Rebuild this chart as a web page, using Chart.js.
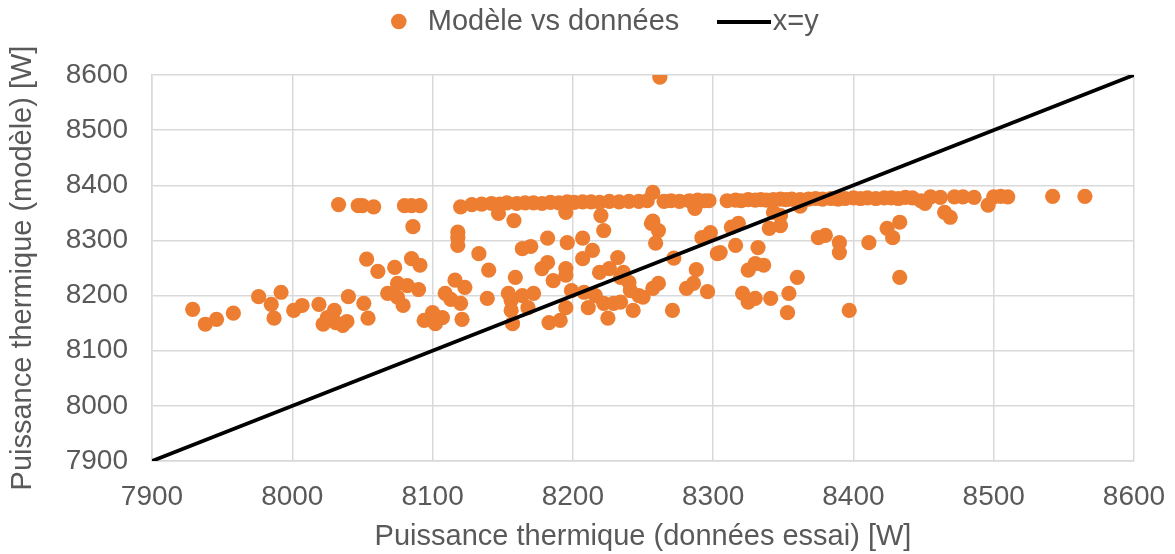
<!DOCTYPE html>
<html>
<head>
<meta charset="utf-8">
<script src="https://cdn.jsdelivr.net/npm/chart.js@4"></script>
<style>
  html, body { margin: 0; padding: 0; background: #fff; }
  #wrap { width: 1175px; height: 554px; }
</style>
</head>
<body>
<div id="wrap"><canvas id="chart"></canvas></div>
<script>
// Puissance thermique : modèle vs données d'essai [W]
const seriesLabels = ['Modèle vs données', 'x=y'];

// points hors du "plateau" ~8370 W
const modelX = [
  7929, 7938, 7946, 7958, 7976, 7985, 7987, 7992, 8001, 8007, 8019, 8022, 8025, 8030, 8031, 8036,
  8039, 8040, 8051, 8054, 8053, 8061, 8073, 8068, 8075, 8075, 8079, 8082, 8090, 8085, 8091, 8086,
  8033, 8047, 8050, 8058, 8080, 8085, 8091, 8094, 8100, 8102, 8107, 8109, 8113, 8116, 8120, 8121,
  8123, 8118, 8118, 8118, 8133, 8140, 8139, 8159, 8154, 8156, 8156, 8157, 8164, 8168, 8172, 8183,
  8191, 8195, 8199, 8208, 8211, 8216, 8225, 8222, 8229, 8234, 8243, 8247, 8250, 8164, 8170, 8178,
  8182, 8186, 8195, 8195, 8182, 8196, 8207, 8214, 8207, 8219, 8226, 8232, 8236, 8234, 8240, 8241,
  8158, 8147, 8220, 8222, 8256, 8257, 8261, 8259, 8272, 8257, 8261, 8271, 8281, 8286, 8288, 8296,
  8292, 8298, 8303, 8305, 8316, 8313, 8318, 8321, 8325, 8330, 8341, 8325, 8330, 8336, 8332, 8353,
  8354, 8360, 8340, 8348, 8343, 8348, 8375, 8380, 8390, 8390, 8397, 8411, 8424, 8428, 8433, 8433,
  8451, 8465, 8469, 8496, 8542, 8565, 8262, 8257, 8195, 8287, 8362
];
const modelY = [
  8175, 8148, 8157, 8168, 8198, 8184, 8159, 8206, 8173, 8182, 8184, 8148, 8160, 8173, 8151, 8146,
  8153, 8198, 8186, 8159, 8266, 8244, 8251, 8204, 8222, 8197, 8182, 8218, 8211, 8267, 8255, 8325,
  8365, 8363, 8363, 8361, 8363, 8363, 8363, 8155, 8169, 8149, 8160, 8204, 8193, 8228, 8186, 8157,
  8215, 8315, 8305, 8291, 8276, 8246, 8195, 8233, 8204, 8191, 8173, 8149, 8200, 8178, 8204, 8151,
  8155, 8178, 8209, 8206, 8178, 8200, 8159, 8186, 8186, 8188, 8173, 8200, 8197, 8285, 8289, 8249,
  8260, 8227, 8249, 8237, 8304, 8296, 8304, 8282, 8267, 8242, 8249, 8269, 8242, 8233, 8224, 8209,
  8336, 8349, 8345, 8318, 8331, 8335, 8318, 8295, 8268, 8213, 8222, 8173, 8213, 8222, 8247, 8207,
  8305, 8314, 8276, 8278, 8291, 8324, 8331, 8204, 8188, 8195, 8195, 8246, 8258, 8255, 8287, 8169,
  8204, 8233, 8322, 8327, 8351, 8345, 8305, 8309, 8296, 8278, 8173, 8296, 8322, 8305, 8333, 8233,
  8367, 8351, 8342, 8364, 8380, 8380, 8596, 8387, 8351, 8358, 8362
];

// le plateau
const plateauX = [
  8120, 8128, 8135, 8142, 8148, 8153, 8160, 8166, 8172, 8178, 8184, 8190, 8196, 8201, 8207, 8213,
  8219, 8226, 8233, 8240, 8247, 8253, 8265, 8270, 8276, 8283, 8289, 8294, 8297, 8310, 8316, 8320,
  8325, 8330, 8334, 8338, 8343, 8348, 8352, 8356, 8362, 8368, 8373, 8378, 8384, 8389, 8394, 8400,
  8405, 8410, 8416, 8422, 8427, 8432, 8437, 8442, 8448, 8455, 8462, 8472, 8478, 8486, 8500, 8505,
  8510
];
const plateauY = [
  8361, 8365, 8366, 8367, 8366, 8368, 8367, 8368, 8368, 8367, 8369, 8368, 8370, 8369, 8370, 8370,
  8369, 8371, 8370, 8371, 8371, 8372, 8371, 8372, 8371, 8372, 8373, 8372, 8372, 8372, 8373, 8372,
  8374, 8373, 8374, 8373, 8374, 8375, 8374, 8375, 8374, 8375, 8376, 8375, 8376, 8375, 8376, 8377,
  8376, 8377, 8376, 8377, 8377, 8376, 8378, 8377, 8372, 8379, 8378, 8379, 8379, 8378, 8379, 8380,
  8379
];

const diagX = [7900, 8600];
const diagY = [7900, 8600];

const axisMin = 7900;
const axisMax = 8600;
const axisStep = 100;

const orange = '#ED7D31';
const grey = '#595959';
const gridGrey = '#D9D9D9';

const points = modelX.map((x, i) => ({ x, y: modelY[i] }))
  .concat(plateauX.map((x, i) => ({ x, y: plateauY[i] })));
const diag = diagX.map((x, i) => ({ x, y: diagY[i] }));

// petit trait noir pour la légende de x=y
const lineIcon = document.createElement('canvas');
lineIcon.width = 54;
lineIcon.height = 4;
const ictx = lineIcon.getContext('2d');
ictx.fillStyle = '#000';
ictx.fillRect(0, 0, 54, 4);

// la légende Excel est un peu plus haute et décalée à droite
const legendLayout = {
  id: 'legendLayout',
  beforeInit(chart) {
    const fit = chart.legend.fit;
    chart.legend.fit = function () {
      fit.call(this);
      this.height = 75;
    };
  },
  afterLayout(chart) {
    const lg = chart.legend;
    lg.left += 14;
    lg.right += 14;
    lg.top -= 43; // bottom inchangé, sinon le texte est rogné
  }
};

const font = { family: '"Liberation Sans", Arial, sans-serif', size: 28 };

new Chart(document.getElementById('chart'), {
  type: 'scatter',
  data: {
    datasets: [
      {
        label: seriesLabels[0],
        data: points,
        backgroundColor: orange,
        borderWidth: 0,
        pointRadius: 7.6,
        pointHoverRadius: 7.6,
        order: 2
      },
      {
        type: 'line',
        label: seriesLabels[1],
        data: diag,
        borderColor: '#000',
        backgroundColor: '#000',
        borderWidth: 3.8,
        pointRadius: 0,
        fill: false,
        order: 1
      }
    ]
  },
  options: {
    responsive: true,
    maintainAspectRatio: false,
    animation: false,
    layout: { padding: 0 },
    plugins: {
      tooltip: { enabled: false },
      legend: {
        position: 'top',
        labels: {
          font: { family: font.family, size: 29 },
          color: grey,
          usePointStyle: true,
          boxHeight: 11,
          padding: 50,
          sort: (a, b) => a.datasetIndex - b.datasetIndex,
          generateLabels(chart) {
            const items = Chart.defaults.plugins.legend.labels.generateLabels(chart);
            items.forEach(it => {
              if (it.datasetIndex === 1) it.pointStyle = lineIcon;
              else { it.pointStyle = 'circle'; it.lineWidth = 0; }
            });
            return items;
          }
        }
      }
    },
    scales: {
      x: {
        type: 'linear',
        min: axisMin,
        max: axisMax,
        afterFit: (scale) => {
          scale.height = 93;
          // marge droite fixe (sinon le padding des ticks s'ajoute)
          scale.paddingLeft = 0;
          scale.paddingRight = 41;
        },
        ticks: {
          stepSize: axisStep,
          color: grey,
          font: font,
          padding: 19,
          maxRotation: 0,
          callback: (v) => String(v)
        },
        grid: { color: gridGrey, lineWidth: 1.5, drawTicks: false },
        border: { color: gridGrey, width: 1.5 },
        title: {
          display: true,
          text: 'Puissance thermique (données essai) [W]',
          color: grey,
          font: { family: font.family, size: 29 },
          padding: { top: 0, bottom: 0 }
        }
      },
      y: {
        type: 'linear',
        min: axisMin,
        max: axisMax,
        afterFit: (scale) => { scale.width = 152; },
        ticks: {
          stepSize: axisStep,
          color: grey,
          font: font,
          padding: 24,
          callback: (v) => String(v)
        },
        grid: { color: gridGrey, lineWidth: 1.5, drawTicks: false },
        border: { color: gridGrey, width: 1.5 },
        title: {
          display: true,
          text: 'Puissance thermique (modèle) [W]',
          color: grey,
          font: { family: font.family, size: 29 },
          padding: { top: 6, bottom: 0 }
        }
      }
    }
  },
  plugins: [legendLayout]
});
</script>
</body>
</html>
